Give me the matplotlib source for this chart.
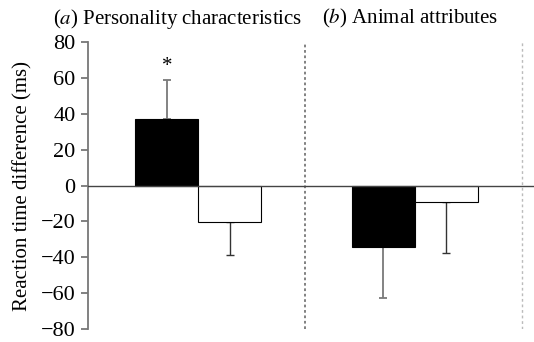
import matplotlib.pyplot as plt

# values (ms)
panels = ['Personality characteristics', 'Animal attributes']
panel_tags = ['a', 'b']
black_vals = [37, -34]
black_errs = [22, 28.5]
white_vals = [-20.5, -9]
white_errs = [18, 28.5]
yticks = [-80, -60, -40, -20, 0, 20, 40, 60, 80]

plt.rcParams['font.family'] = ['Liberation Serif', 'DejaVu Serif']
plt.rcParams['mathtext.fontset'] = 'stix'
FS = 15

fig = plt.figure(figsize=(5.34, 3.42), dpi=100)
ax = fig.add_axes([0.165, 0.038, 0.835, 0.839])

centers = [1.75, 5.19]
w = 1.0
for i, c in enumerate(centers):
    bx = c - w / 2
    wx = c + w / 2
    ax.bar(bx, black_vals[i], width=w, color='black', edgecolor='black', linewidth=0.8, zorder=2)
    ax.bar(wx, white_vals[i], width=w, color='white', edgecolor='black', linewidth=0.8, zorder=2)
    # one-sided error bars, pointing away from zero
    up = black_vals[i] > 0
    ax.errorbar(bx, black_vals[i], yerr=[[0], [black_errs[i]]] if up else [[black_errs[i]], [0]],
                fmt='none', ecolor='#7a7a7a', elinewidth=1.3, capsize=3, capthick=1.3, zorder=1)
    up = white_vals[i] > 0
    ax.errorbar(wx, white_vals[i], yerr=[[0], [white_errs[i]]] if up else [[white_errs[i]], [0]],
                fmt='none', ecolor='#333333', elinewidth=1.0, capsize=3, capthick=1.0, zorder=1)

ax.text(centers[0] - w / 2, black_vals[0] + black_errs[0] + 2, '*', ha='center', va='bottom', fontsize=FS)

ax.axhline(0, color='#444444', linewidth=1.0, zorder=3)
ax.axvline(3.44, color='#777777', linestyle=(0, (1.5, 1.5)), linewidth=1.3)
ax.axvline(6.89, color='#bbbbbb', linestyle=(0, (2, 2)), linewidth=1.0)

ax.set_xlim(0, 7.08)
ax.set_ylim(-80, 80)
ax.set_yticks(yticks)
ax.set_yticklabels(['\u2212' + str(-t) if t < 0 else str(t) for t in yticks], fontsize=16)
ax.set_xticks([])
for side in ['top', 'right', 'bottom']:
    ax.spines[side].set_visible(False)
ax.spines['left'].set_color('#777777')
ax.spines['left'].set_linewidth(1.3)
ax.tick_params(axis='y', color='#777777', width=1.3, length=5, pad=4)
ax.set_ylabel('Reaction time difference (ms)', fontsize=FS, labelpad=6)

fig.text(0.10, 0.945, r'($\mathit{a}$) ' + panels[0], fontsize=FS, va='center')
fig.text(0.603, 0.945, r'($\mathit{b}$) ' + panels[1], fontsize=FS, va='center')

fig.savefig('out.png', dpi=100)
